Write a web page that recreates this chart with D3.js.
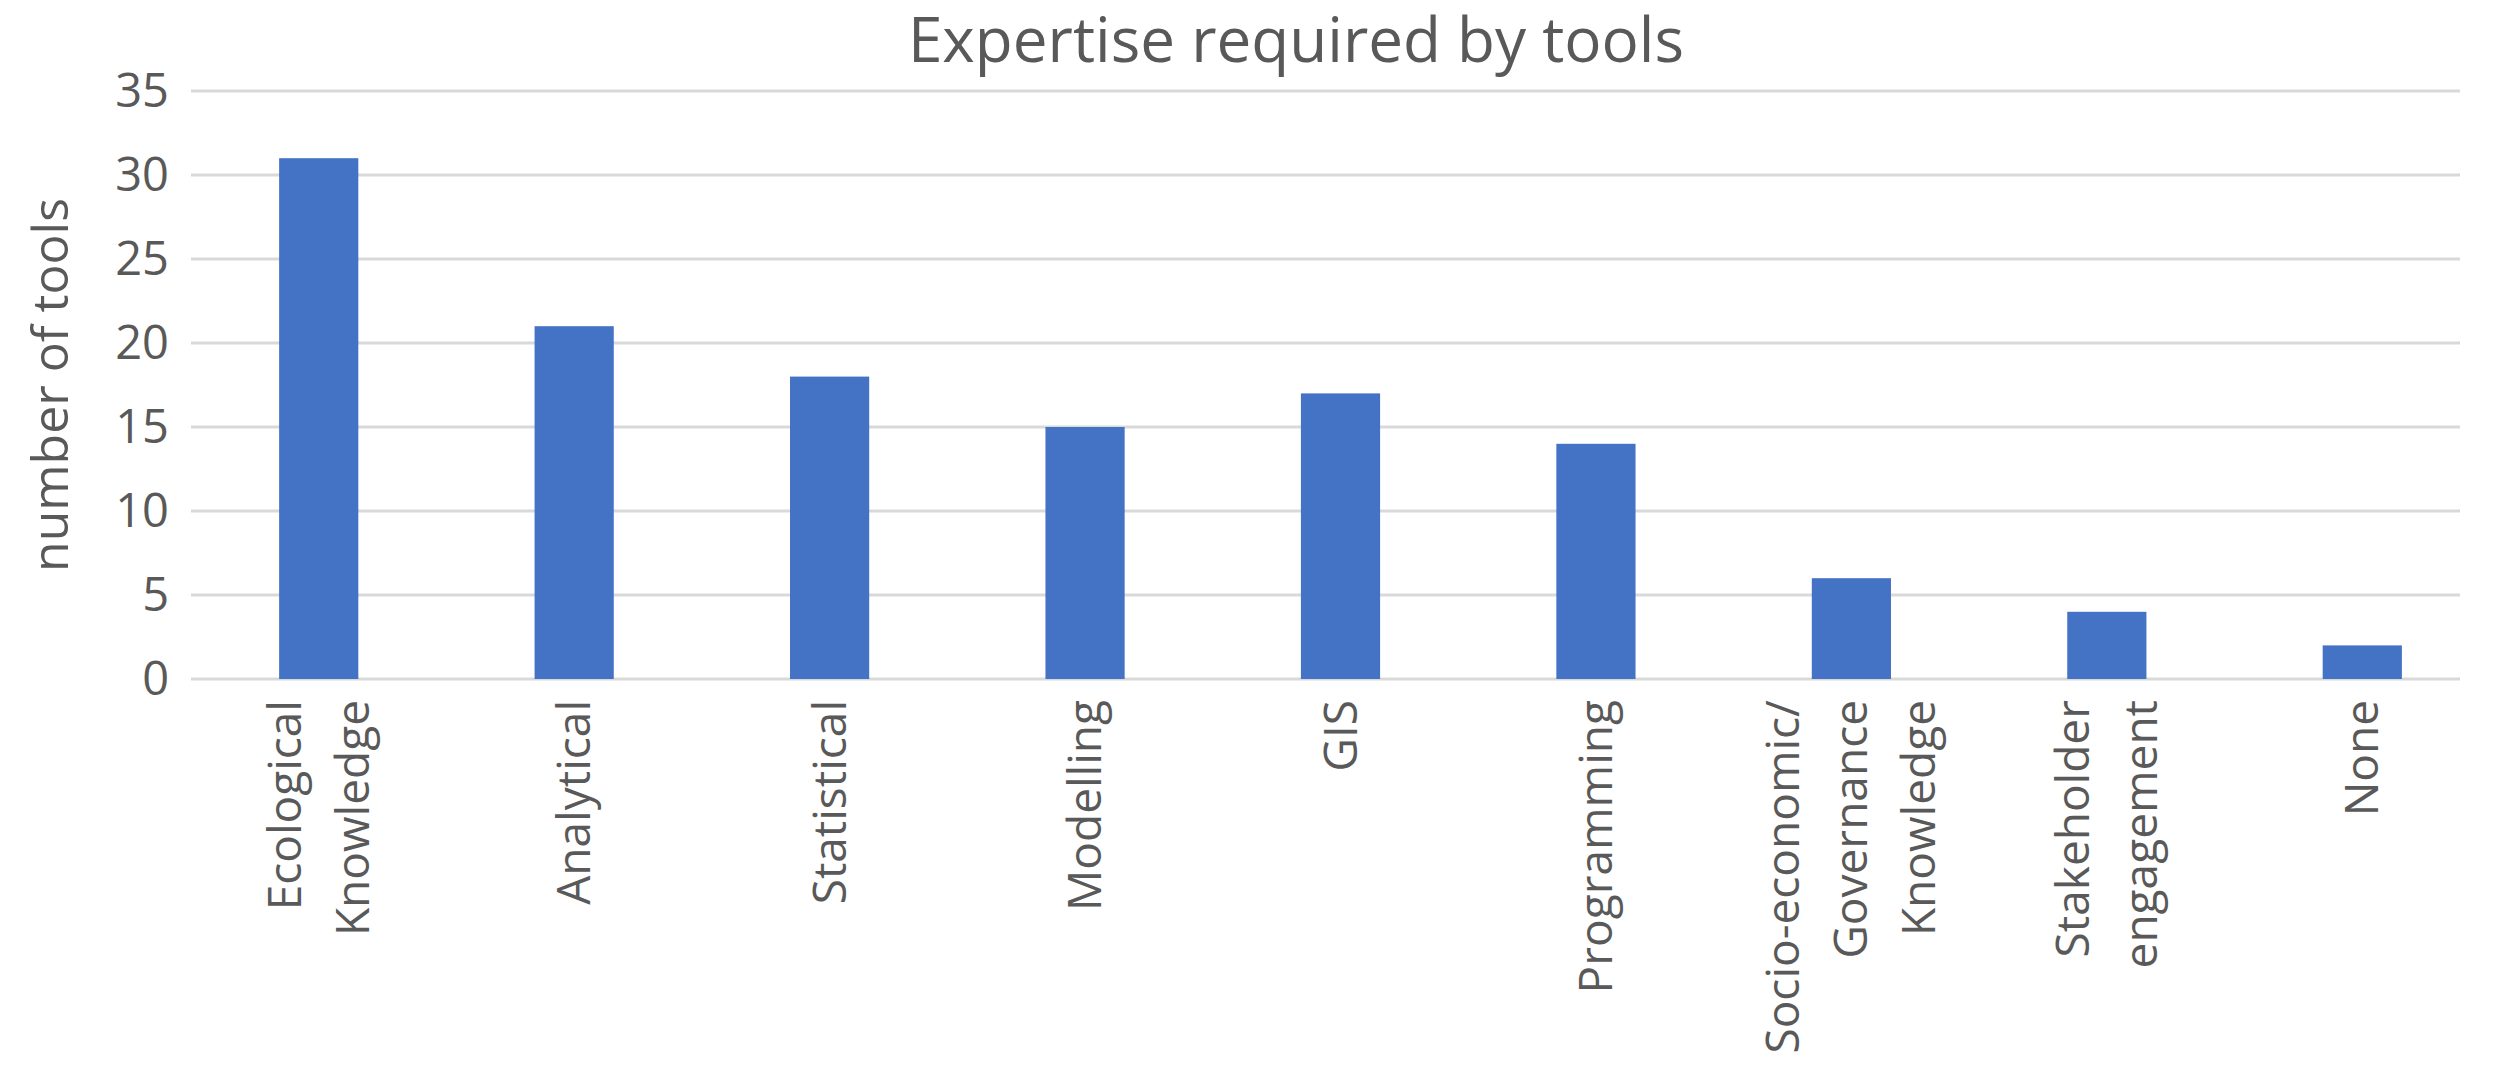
<!DOCTYPE html>
<html><head><meta charset="utf-8">
<script src="https://cdn.jsdelivr.net/npm/d3@7"></script>
<style>body{margin:0;background:#fff}text{font-family:"Open Sans","Noto Sans",sans-serif;fill:#595959}</style>
</head><body><svg id="c" width="2500" height="1076"></svg>
<script>
const categories=[["Ecological","Knowledge"],["Analytical"],["Statistical"],["Modelling"],["GIS"],["Programming"],["Socio-economic/","Governance","Knowledge"],["Stakeholder","engagement"],["None"]];
const values=[31,21,18,15,17,14,6,4,2];
const yTicks=[0,5,10,15,20,25,30,35];
const svg=d3.select("#c");
const m={l:191,r:2490,t:91,b:679};
const x=d3.scaleBand().domain(d3.range(values.length)).range([m.l,m.r]).paddingInner(0.69).paddingOuter(0.345);
const y=d3.scaleLinear().domain([0,35]).range([m.b,m.t]);
svg.append("g").selectAll("line").data(yTicks).join("line")
 .attr("x1",m.l).attr("x2",2460).attr("y1",d=>y(d)).attr("y2",d=>y(d))
 .attr("stroke","#d9d9d9").attr("stroke-width",3);
svg.append("g").selectAll("text").data(yTicks).join("text")
 .attr("x",m.l-22).attr("y",d=>y(d)).attr("dy","0.35em").attr("text-anchor","end")
 .style("font-size","47px").text(d=>d);
svg.append("g").selectAll("rect").data(values).join("rect")
 .attr("x",(d,i)=>x(i)).attr("width",x.bandwidth()).attr("y",d=>y(d)).attr("height",d=>y(0)-y(d))
 .attr("fill","#4472c4");
const lh=68;
categories.forEach((lines,i)=>{
 const cx=x(i)+x.bandwidth()/2;
 const g=svg.append("g").attr("transform",`translate(${cx},700) rotate(-90)`);
 lines.forEach((t,j)=>{
  g.append("text").attr("x",0).attr("y",(j-(lines.length-1)/2)*lh).attr("dy","0.35em")
   .attr("text-anchor","end").style("font-size","46px").text(t);
 });
});
svg.append("text").attr("x",1296).attr("y",40).attr("dy","0.35em").attr("text-anchor","middle")
 .style("font-size","62px").text("Expertise required by tools");
svg.append("text").attr("transform",`translate(50,${(m.t+m.b)/2}) rotate(-90)`).attr("dy","0.35em")
 .attr("text-anchor","middle").style("font-size","50px").text("number of tools");
</script></body></html>
